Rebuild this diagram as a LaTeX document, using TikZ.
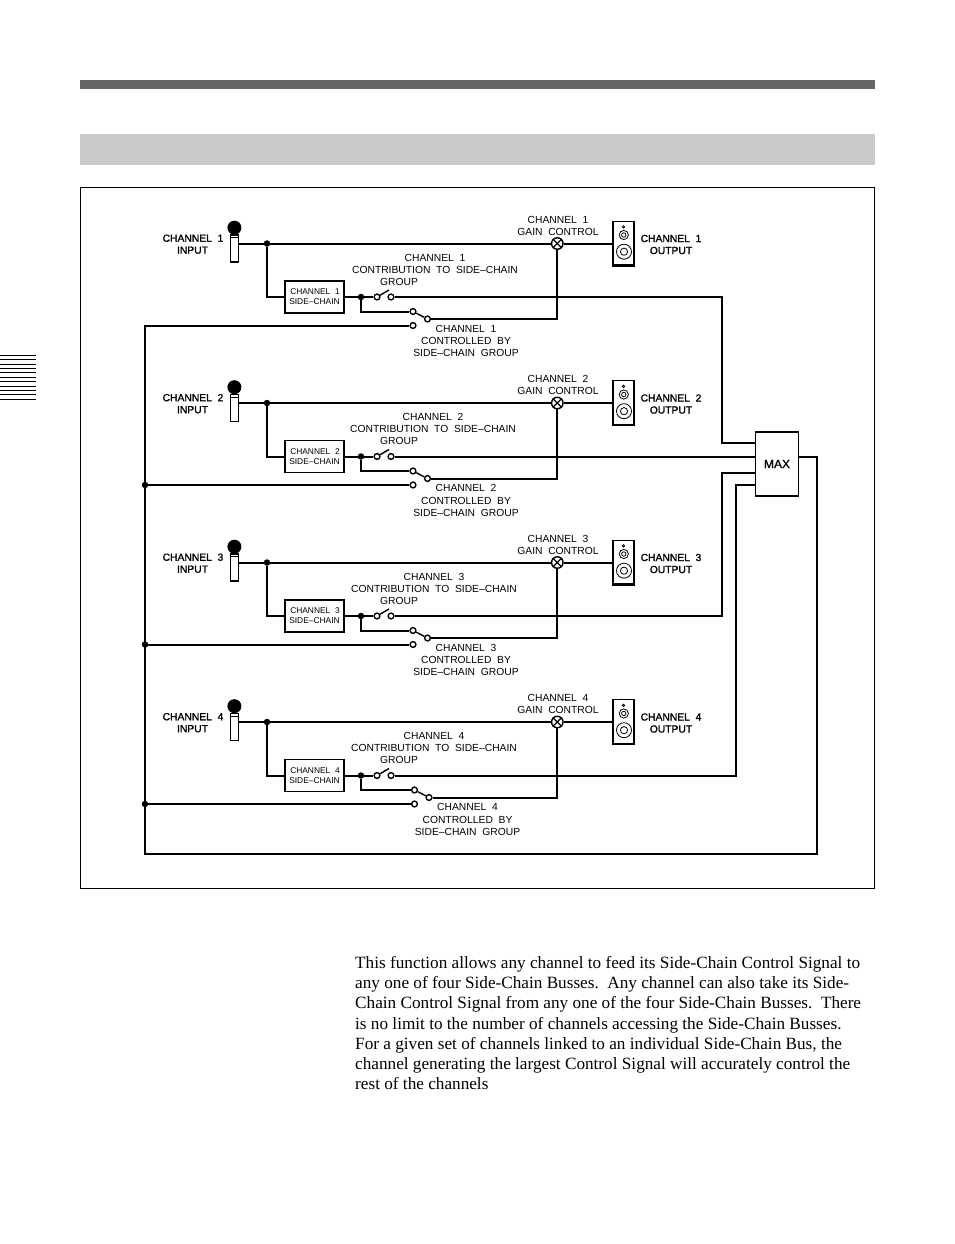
\documentclass[tikz,border=0pt]{standalone}
\usepackage{fontspec}
\setmainfont{Liberation Serif}
\newfontfamily\cad[WordSpace=2]{Liberation Sans}
\newfontfamily\cadb[FakeBold=1.2,WordSpace=2]{Liberation Sans}
\tikzset{
  wire/.style={line width=2pt,line join=miter},
  lbl/.style={inner sep=0pt,font=\cad\fontsize{10.3}{12}\selectfont},
  lblb/.style={inner sep=0pt,font=\cadb\fontsize{10.3}{12}\selectfont},
  lbls/.style={inner sep=0pt,font=\cad\fontsize{8.4}{10}\selectfont},
  sidebox/.style={draw,line width=1.6pt,fill=white,minimum width=59pt,minimum height=32pt,inner sep=0pt},
  term/.style={circle,draw,line width=1.4pt,fill=white,minimum size=5.8pt,inner sep=0pt},
  jdot/.style={circle,fill=black,minimum size=6.5pt,inner sep=0pt},
  xmark/.style={circle,draw,line width=1.4pt,fill=white,minimum size=11.5pt,inner sep=0pt},
  micbody/.style={draw,line width=1.4pt,fill=white,minimum width=8.5pt,minimum height=27pt,inner sep=0pt},
  spk/.style={draw,line width=1.4pt,fill=white,minimum width=21pt,minimum height=44.5pt,inner sep=0pt},
  tabline/.style={line width=1pt},
}
% #1 number, #2 main line y, #3 lower switch dx, #4 contribution centre x, #5 controlled centre x
\newcommand\chan[5]{%
  \pgfmathsetmacro\ysc{#2+53.5}%
  \pgfmathsetmacro\ylo{#2+68}%
  \pgfmathsetmacro\yrt{#2+75.5}%
  \pgfmathsetmacro\ybus{#2+82}%
  \pgfmathsetmacro\ybox{#2+53.5}%
  \pgfmathsetmacro\ymic{#2+5}%
  \pgfmathsetmacro\yhead{#2-15.8}%
  \pgfmathsetmacro\yband{#2-5.8}%
  \pgfmathsetmacro\xlo{413+#3}%
  \pgfmathsetmacro\xrt{427.5+#3}%
  % microphone
  \node[micbody] (mic#1) at (234.5,\ymic) {};
  \fill (234.4,\yhead) circle (7pt);
  \draw[line width=1pt] (230.2,\yband) -- (238.8,\yband);
  % components
  \node[jdot] (tap#1) at (267,#2) {};
  \node[sidebox] (box#1) at (314.5,\ybox) {};
  \node[jdot] (sc#1) at (361,\ysc) {};
  \node[term] (swa#1) at (377,\ysc) {};
  \node[term] (swb#1) at (391,\ysc) {};
  \coordinate (lev#1) at (389,\ysc-7);
  \node[term] (loa#1) at (\xlo,\ylo) {};
  \node[term] (lob#1) at (\xrt,\yrt) {};
  \node[term] (buss#1) at (\xlo,\ybus) {};
  \node[xmark] (gain#1) at (557.3,#2) {};
  \node[spk] (spk#1) at (623.3,#2) {};
  % wires
  \draw[wire] (mic#1.east |- tap#1) -- (tap#1) -- (gain#1);
  \draw[wire] (gain#1) -- (spk#1.west |- gain#1);
  \draw[wire] (tap#1) |- (box#1);
  \draw[wire] (box#1) -- (sc#1) -- (swa#1);
  \draw[wire] (sc#1) |- (loa#1);
  \draw[wire] (lob#1) -| (gain#1);
  \draw[line width=1.4pt] (swa#1) -- (lev#1);
  \draw[line width=1.4pt] (loa#1) -- (lob#1);
  % X in the gain control
  \draw[line width=1.2pt] (gain#1.45) -- (gain#1.225) (gain#1.135) -- (gain#1.315);
  % speaker
  \draw[line width=2.4pt] ([xshift=1pt]spk#1.south west) -- ([xshift=1pt]spk#1.north west);
  \draw[line width=2.4pt] ([yshift=1pt]spk#1.south west) -- ([yshift=1pt]spk#1.south east);
  \draw[line width=.8pt] (623.5,#2-16.7) circle (1.2pt);
  \draw[line width=.8pt] (623.8,#2-8.5) circle (4.6pt) (623.8,#2-8.5) circle (2.2pt);
  \draw[line width=.8pt] (624,#2+8.2) circle (7.5pt) (624,#2+8.2) circle (3.6pt);
  % box text
  \node[lbls] (boxa#1) at (315,\ybox-5) {CHANNEL #1};
  \node[lbls] (boxb#1) at (314.5,\ybox+5) {SIDE–CHAIN};
  % labels
  \node[lbl] (gla#1) at (558,#2-23.8) {CHANNEL #1};
  \node[lbl] (glb#1) at (558,#2-11.8) {GAIN CONTROL};
  \node[lblb] (outa#1) at (671,#2-5) {CHANNEL #1};
  \node[lblb] (outb#1) at (671,#2+7) {OUTPUT};
  \node[lbl] (cona#1) at (#4,#2+14) {CHANNEL #1};
  \node[lbl] (conb#1) at (#4,#2+26.3) {CONTRIBUTION TO SIDE–CHAIN};
  \node[lbl] (conc#1) at (399,#2+38) {GROUP};
  \node[lbl] (cta#1) at (#5,#2+85.3) {CHANNEL #1};
  \node[lbl] (ctb#1) at (#5,#2+97.5) {CONTROLLED BY};
  \node[lbl] (ctc#1) at (#5,#2+109.5) {SIDE–CHAIN GROUP};
  \node[lblb] (ina#1) at (193,#2-5.3) {CHANNEL #1};
  \node[lblb] (inb#1) at (192.5,#2+6.7) {INPUT};
}
\begin{document}
\begin{tikzpicture}[x=1pt,y=-1pt]
\useasboundingbox (0,0) rectangle (954,1244);
\fill[white] (0,0) rectangle (954,1244);
\fill[black!60] (80,80) rectangle (875,89);
\fill[black!21] (80,134) rectangle (875,165);
\draw[line width=1pt] (80.5,187.5) rectangle (874.5,888.5);
\foreach \i in {0,...,10} \draw[tabline] (0,355.3+4.4*\i) -- (36,355.3+4.4*\i);
\chan{1}{243.5}{0}{435}{466}
\chan{2}{403}{0}{433}{466}
\chan{3}{562.5}{0}{434}{466}
\chan{4}{722}{1.5}{434}{467.5}
\node[draw,line width=1.6pt,fill=white,minimum width=43pt,minimum height=64pt,inner sep=0pt,font=\cadb\fontsize{12}{13}\selectfont] (max) at (777,464) {MAX};
\coordinate (maxa) at (755.5,443);
\coordinate (maxb) at (755.5,457);
\coordinate (maxc) at (755.5,473);
\coordinate (maxd) at (755.5,485);
\coordinate (maxo) at (798.5,457);
\coordinate (ra) at (722,297);
\coordinate (rc) at (722,616);
\coordinate (rd) at (736,775.5);
\draw[wire] (swb1) -- (ra) |- (maxa);
\draw[wire] (swb2) -- (swb2 -| maxb);
\draw[wire] (swb3) -- (rc) |- (maxc);
\draw[wire] (swb4) -- (rd) |- (maxd);
\coordinate (busr) at (817,854);
\coordinate (busl) at (145,854);
\node[jdot] (bj2) at (145,485) {};
\node[jdot] (bj3) at (145,644.5) {};
\node[jdot] (bj4) at (145,804) {};
\draw[wire] (maxo) -| (busr) -- (busl) |- (buss1);
\draw[wire] (bj2) -- (buss2);
\draw[wire] (bj3) -- (buss3);
\draw[wire] (bj4) -- (buss4);
\node[anchor=north west,inner sep=0pt,align=left,font=\fontsize{17.2}{20.15}\selectfont] (body) at (355,956.3) {%
This function allows any channel to feed its Side-Chain Control Signal to\\
any one of four Side-Chain Busses.\ \ Any channel can also take its Side-\\
Chain Control Signal from any one of the four Side-Chain Busses.\ \ There\\
is no limit to the number of channels accessing the Side-Chain Busses.\\
For a given set of channels linked to an individual Side-Chain Bus, the\\
channel generating the largest Control Signal will accurately control the\\
rest of the channels};
\end{tikzpicture}
\end{document}
